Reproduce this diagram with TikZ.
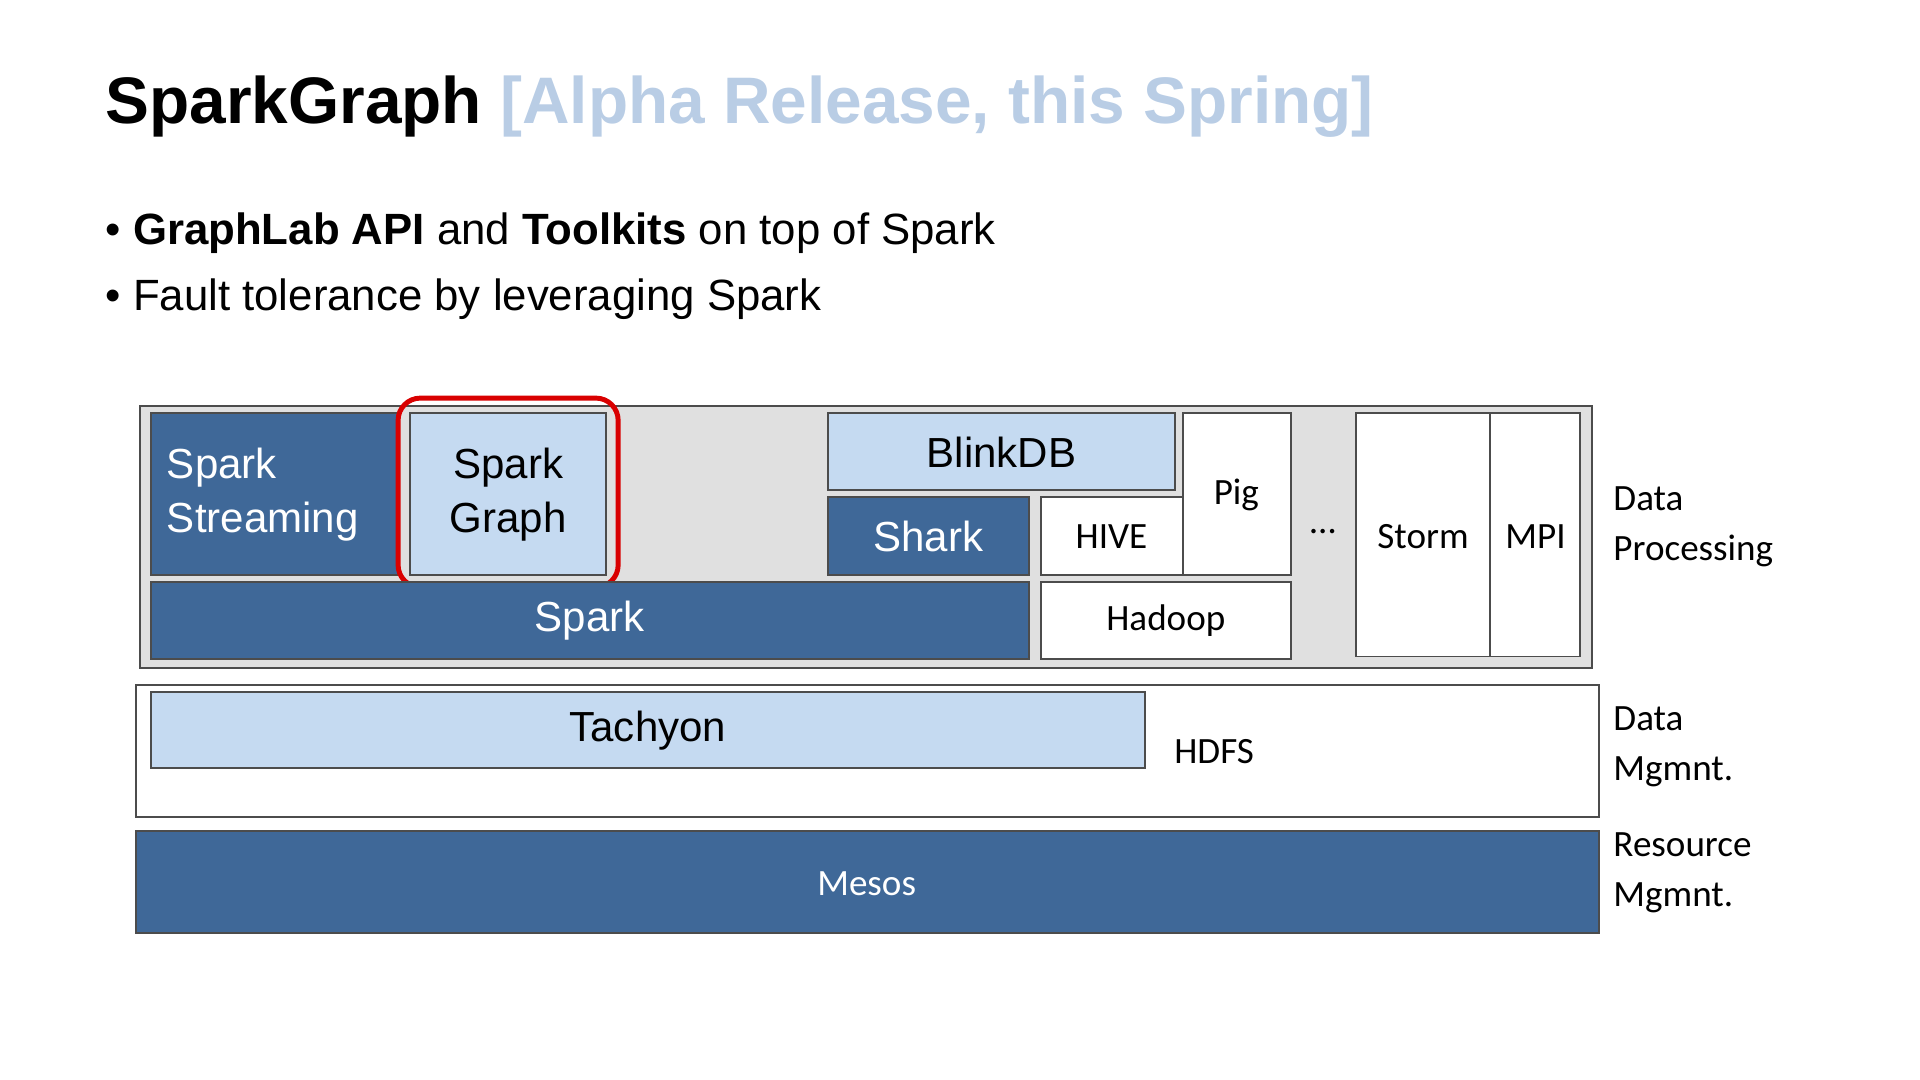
\documentclass[tikz,border=0pt]{standalone}
\usepackage{fontspec}
\setmainfont{Carlito}
\newfontfamily\arial{Liberation Sans}
\usetikzlibrary{positioning}
\definecolor{sdark}{HTML}{3F6898}
\definecolor{slight}{HTML}{C5DAF1}
\definecolor{stitle}{HTML}{B9CDE5}
\tikzset{
  blk/.style={draw=black!70, line width=0.8pt},
  dark/.style={blk, fill=sdark},
  light/.style={blk, fill=slight},
  plain/.style={blk, fill=white},
  lbl/.style={font=\fontsize{15}{20}\selectfont, text=black},
  big/.style={font=\arial\fontsize{17}{22}\selectfont},
}
\begin{document}
\begin{tikzpicture}[x=0.5pt,y=-0.5pt]
  \useasboundingbox (0,0) rectangle (1553,873);
  % title and bullets
  \node[anchor=base west, inner sep=0, font=\arial\bfseries\fontsize{26.6}{28}\selectfont] (title) at (85,100)
    {SparkGraph \textcolor{stitle}{[Alpha Release, this Spring]}};
  \node[anchor=base west, inner sep=0, font=\arial\fontsize{17.7}{20}\selectfont] (b1) at (85,198)
    {\textbullet\ \textbf{GraphLab API} and \textbf{Toolkits} on top of Spark};
  \node[anchor=base west, inner sep=0, font=\arial\fontsize{17.7}{20}\selectfont] (b2) at (85,251)
    {\textbullet\ Fault tolerance by leveraging Spark};
  % data processing layer
  \draw[blk, fill=black!12] (113,328) rectangle (1288,540);
  \draw[dark] (122,334) rectangle (322,465);
  \node[anchor=west, align=left, text=white, big] (stream) at (128,400) {Spark\\Streaming};
  \draw[light] (332,334) rectangle (490,465);
  \node[align=center, big] (graph) at (411,400) {Spark\\Graph};
  \draw[red!85!black, line width=2pt, rounded corners=9pt] (322,322) rectangle (500,475);
  \draw[light] (670,334) rectangle (950,396);
  \node[big] (blink) at (810,366) {BlinkDB};
  \draw[dark] (670,402) rectangle (832,465);
  \node[big, text=white] (shark) at (751,434) {Shark};
  \draw[plain] (842,402) rectangle (957,465);
  \node[lbl] (hive) at (899,434) {HIVE};
  \draw[plain] (957,334) rectangle (1044,465);
  \node[lbl] (pig) at (1000,400) {Pig};
  \draw[dark] (122,471) rectangle (832,533);
  \node[big, text=white] (spark) at (477,502) {Spark};
  \draw[plain] (842,471) rectangle (1044,533);
  \node[lbl] (hadoop) at (943,502) {Hadoop};
  \node[lbl] (dots) at (1070,430) {\dots};
  \draw[plain] (1097,334) rectangle (1205,531);
  \node[lbl] (storm) at (1151,434) {Storm};
  \draw[plain] (1205,334) rectangle (1278,531);
  \node[lbl] (mpi) at (1242,434) {MPI};
  \node[lbl, anchor=west, align=left] (dp) at (1298,426) {Data\\Processing};
  % data management layer
  \draw[blk, fill=white] (110,554) rectangle (1293,661);
  \draw[light] (122,560) rectangle (926,621);
  \node[big] (tachyon) at (524,591) {Tachyon};
  \node[lbl] (hdfs) at (982,608) {HDFS};
  \node[lbl, anchor=west, align=left] (dm) at (1298,604) {Data\\Mgmnt.};
  % resource management layer
  \draw[dark] (110,672) rectangle (1293,755);
  \node[lbl, text=white] (mesos) at (701,715) {Mesos};
  \node[lbl, anchor=west, align=left] (rm) at (1298,706) {Resource\\Mgmnt.};
\end{tikzpicture}
\end{document}
